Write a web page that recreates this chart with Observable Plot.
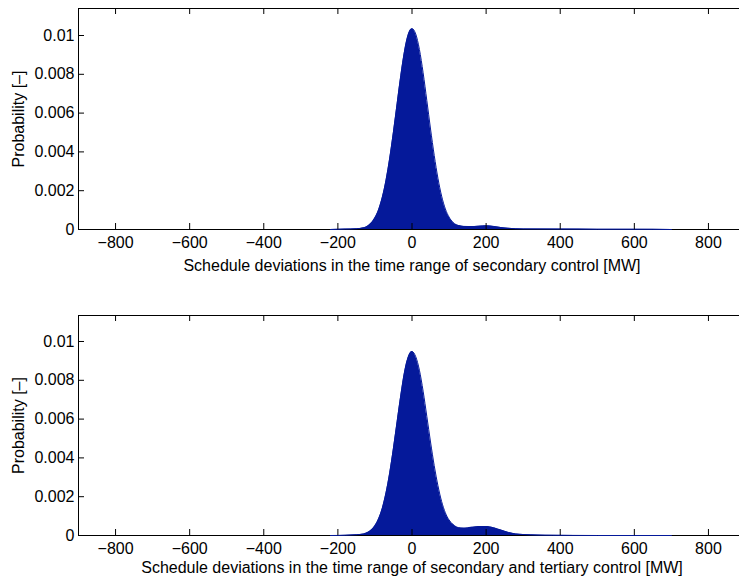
<!DOCTYPE html>
<html>
<head>
<meta charset="utf-8">
<script src="https://cdn.jsdelivr.net/npm/d3@7"></script>
<script src="https://cdn.jsdelivr.net/npm/@observablehq/plot@0.6"></script>
<style>
  html, body { margin: 0; padding: 0; overflow: hidden; background: #fff; }
  #chart { width: 739px; height: 580px; overflow: hidden; }
  #chart svg { display: block; max-width: none !important; }
</style>
</head>
<body>
<div id="chart"></div>
<script>
// ---- data ----
const xTicks = [-800, -600, -400, -200, 0, 200, 400, 600, 800];
const xTickLabels = ["−800", "−600", "−400", "−200", "0", "200", "400", "600", "800"];
const yTicks = [0, 0.002, 0.004, 0.006, 0.008, 0.01];
const yTickLabels = ["0", "0.002", "0.004", "0.006", "0.008", "0.01"];

const topX = [-220,-180,-150,-130,-120,-110,-100,-90,-80,-70,-60,-50,-40,-30,-20,-10,0,10,20,30,40,50,60,70,80,90,100,110,120,140,160,180,200,220,240,260,300,400,500,600,700];
const topY = [0,0.00002,0.00004,0.00009,0.00017,0.00033,0.00060,0.00102,0.00166,0.00254,0.00368,0.00503,0.00650,0.00795,0.00920,0.01005,0.01035,0.01008,0.00928,0.00808,0.00665,0.00518,0.00382,0.00264,0.00172,0.00106,0.00064,0.00038,0.00024,0.00016,0.00015,0.00017,0.00019,0.00016,0.00010,0.00006,0.00003,0.00002,0.00001,0.00001,0];

const botX = [-220,-180,-150,-130,-120,-110,-100,-90,-80,-70,-60,-50,-40,-30,-20,-10,0,10,20,30,40,50,60,70,80,90,100,110,120,130,140,150,160,170,180,190,200,210,220,230,240,260,280,300,340,380,500,700];
const botY = [0,0.00001,0.00004,0.00008,0.00015,0.00028,0.00050,0.00086,0.00141,0.00220,0.00324,0.00450,0.00588,0.00724,0.00843,0.00920,0.00948,0.00922,0.00852,0.00744,0.00614,0.00482,0.00360,0.00257,0.00175,0.00117,0.00080,0.00058,0.00044,0.00039,0.00038,0.00039,0.00042,0.00044,0.00046,0.00046,0.00046,0.00044,0.00040,0.00034,0.00028,0.00016,0.00008,0.00005,0.00002,0.00001,0,0];

const topLabel = "Schedule deviations in the time range of secondary control [MW]";
const botLabel = "Schedule deviations in the time range of secondary and tertiary control [MW]";
const yLabel = "Probability [–]";
const fillColor = "#05199a";

function panel({xs, ys, yMax, height, marginTop, marginBottom, xLabel, labelDy}) {
  const data = xs.map((x, i) => ({x, y: ys[i]}));
  const width = 745, marginLeft = 78, marginRight = 0;
  const fw = width - marginLeft - marginRight;
  const fh = height - marginTop - marginBottom;
  const tick = 6;
  const fs = 16;
  return Plot.plot({
    width, height, marginLeft, marginRight, marginTop, marginBottom,
    style: {fontFamily: "'Liberation Sans', Arial, Helvetica, sans-serif", fontSize: fs + "px", color: "#000", background: "#fff", maxWidth: "none"},
    x: {domain: [-900, 900]},
    y: {domain: [0, yMax]},
    marks: [
      Plot.areaY(data, {x: "x", y: "y", fill: fillColor, curve: "monotone-x"}),
      Plot.frame({stroke: "#000", strokeWidth: 1}),
      Plot.lineY(data, {x: "x", y: "y", stroke: fillColor, strokeWidth: 1, curve: "monotone-x"}),
      // inward ticks
      Plot.tickX(xTicks, {x: d => d, insetTop: fh - tick, stroke: "#000"}),
      Plot.tickX(xTicks, {x: d => d, insetBottom: fh - tick, stroke: "#000"}),
      Plot.tickY(yTicks, {y: d => d, insetRight: fw - tick, stroke: "#000"}),
      Plot.tickY(yTicks, {y: d => d, insetLeft: fw - tick, stroke: "#000"}),
      Plot.axisX({ticks: xTicks, tickFormat: (d) => xTickLabels[xTicks.indexOf(d)], tickSize: 0, tickPadding: 7, label: null, fontSize: fs}),
      Plot.axisY({ticks: yTicks, tickFormat: (d) => yTickLabels[yTicks.indexOf(d)], tickSize: 0, tickPadding: 4, label: null, fontSize: fs}),
      Plot.text([xLabel], {frameAnchor: "bottom", dy: labelDy, text: d => d, fontSize: fs, lineAnchor: "middle"}),
      Plot.text([yLabel], {frameAnchor: "left", dx: -60, rotate: -90, text: d => d, fontSize: fs, lineAnchor: "middle", textAnchor: "middle"})
    ]
  });
}

const root = document.getElementById("chart");
root.appendChild(panel({xs: topX, ys: topY, yMax: 0.011392, height: 300, marginTop: 8, marginBottom: 71, xLabel: topLabel, labelDy: 36}));
root.appendChild(panel({xs: botX, ys: botY, yMax: 0.01134, height: 280, marginTop: 15, marginBottom: 45, xLabel: botLabel, labelDy: 32}));
</script>
</body>
</html>
